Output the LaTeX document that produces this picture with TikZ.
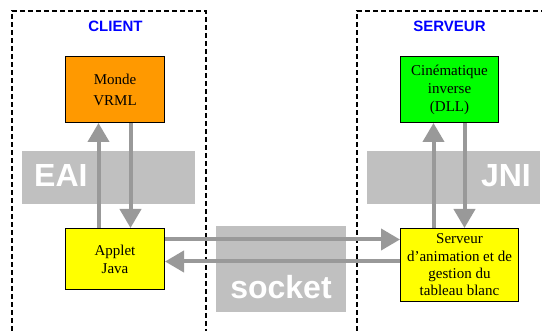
\documentclass[tikz,border=0pt]{standalone}
\usepackage{fontspec}
\setmainfont{Liberation Serif}
\newfontfamily\labfont{Liberation Sans}
\usetikzlibrary{arrows.meta}
\definecolor{bandgray}{HTML}{C0C0C0}
\definecolor{arrgray}{HTML}{999999}
\definecolor{vorange}{HTML}{FF9900}
\definecolor{vgreen}{HTML}{00FF00}
\definecolor{vyellow}{HTML}{FFFF00}
\definecolor{lblue}{HTML}{0000FF}
\begin{document}
\begin{tikzpicture}[x=1pt,y=-1pt,
 box/.style={draw=black, line width=1pt, anchor=north west, align=center, inner sep=0pt, font=\fontsize{15}{18}\selectfont},
 band/.style={fill=bandgray, draw=none},
 bigtext/.style={text=white, font=\labfont\bfseries\fontsize{32}{36}\selectfont, inner sep=0pt},
 title/.style={text=lblue, font=\labfont\bfseries\fontsize{15}{18}\selectfont, inner sep=0pt},
 zone/.style={black, line width=2pt, dash pattern=on 5pt off 3pt},
 arr/.style={arrgray, line width=4pt, -{Triangle[width=21pt,length=19pt]}}]
\useasboundingbox (0,0) rectangle (542,331);
% zones
\draw[zone] (12,331) -- (12,11) -- (206,11) -- (206,331);
\draw[zone] (357,331) -- (357,11) -- (542,11);
\node[title] (tclient) at (115.5,26) {CLIENT};
\node[title] (tserveur) at (449.5,26) {SERVEUR};
% bands
\fill[band] (22,151) rectangle (195,204);
\fill[band] (367,151) rectangle (540,204);
\fill[band] (216,226) rectangle (346,312);
\node[bigtext, anchor=base west] (eai) at (34,187) {EAI};
\node[bigtext, anchor=base east] (jni) at (531,187) {JNI};
\node[bigtext, anchor=base] (socket) at (281,299) {socket};
% boxes
\node[box, fill=vorange, minimum width=99pt, minimum height=66pt] (monde) at (65,56) {Monde\\[3pt]VRML};
\node[box, fill=vgreen, minimum width=98pt, minimum height=66pt] (cine) at (400,56) {Cinématique\\inverse\\(DLL)};
\node[box, fill=vyellow, minimum width=99pt, minimum height=61pt] (applet) at (65,228) {Applet\\Java};
\node[box, fill=vyellow, minimum width=118pt, minimum height=73pt, font=\fontsize{15}{17.3}\selectfont] (serv) at (400,228) {Serveur\\d\char"0027animation et de\\gestion du\\tableau blanc};
% arrows
\coordinate (cu) at ([xshift=-16.5pt]applet.north);
\coordinate (cd) at ([xshift=15.5pt]applet.north);
\draw[arr] (cu) -- (cu |- monde.south);
\draw[arr] (cd |- monde.south) -- (cd);
\coordinate (su) at ([xshift=-16pt]cine.south);
\coordinate (sd) at ([xshift=15pt]cine.south);
\draw[arr] (su |- serv.north) -- (su);
\draw[arr] (sd) -- (sd |- serv.north);
\coordinate (hr) at ([yshift=19.5pt]applet.east);
\coordinate (hl) at ([yshift=-2.5pt]applet.east);
\draw[arr] (hr) -- (hr -| serv.west);
\draw[arr] (hl -| serv.west) -- (hl);
\end{tikzpicture}
\end{document}
